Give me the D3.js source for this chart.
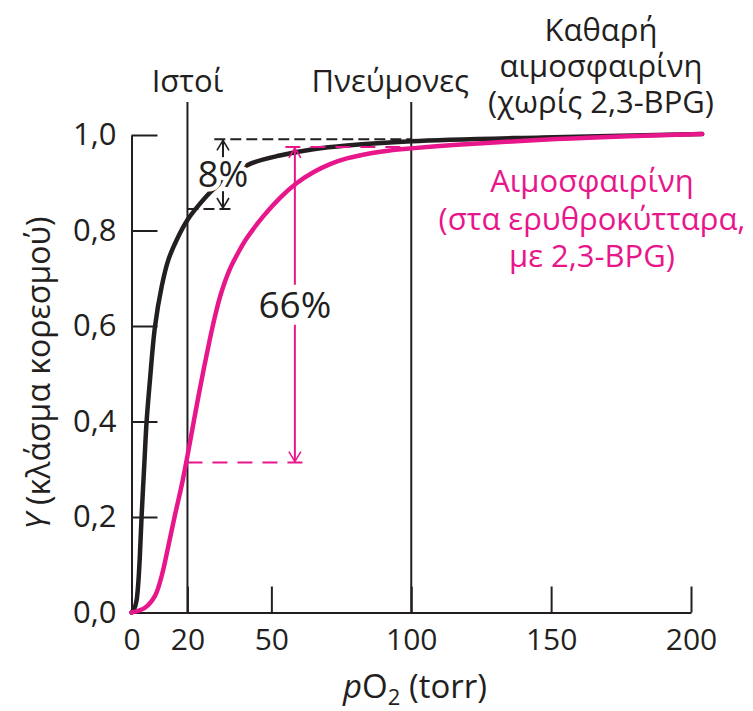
<!DOCTYPE html>
<html><head><meta charset="utf-8">
<script src="https://cdn.jsdelivr.net/npm/d3@7"></script>
<style>
html,body{margin:0;padding:0;background:#fff;}
svg{display:block;}
text{font-family:"Open Sans","Noto Sans",sans-serif;}
</style></head>
<body>
<script>
// ---- data ----
const xTicks = [0, 20, 50, 100, 150, 200];
const yTicks = [0, 0.2, 0.4, 0.6, 0.8, 1.0];
const refLines = [{x: 20, label: "Ιστοί", lx: 20}, {x: 100, label: "Πνεύμονες", lx: 92.5}];
// pure hemoglobin (no 2,3-BPG)
const pureP = [0, 1, 1.8, 2.4, 3.0, 3.6, 4.6, 5.4, 6.6, 8.4, 10.8, 13.2, 16.7, 20, 23.9, 29.2, 36, 43, 53, 65, 77, 100, 147, 204];
const pureY = [0, 0.008, 0.025, 0.06, 0.12, 0.2, 0.313, 0.4, 0.487, 0.599, 0.683, 0.739, 0.787, 0.822, 0.852, 0.886, 0.918, 0.941, 0.957, 0.970, 0.978, 0.987, 0.995, 1.002];
// hemoglobin in erythrocytes (with 2,3-BPG)
const rbcP = [0, 4.8, 8.4, 10.8, 13.2, 15.5, 18, 20, 22, 24, 26, 28, 30, 32, 35, 38, 41, 47, 53, 59, 65, 71, 77, 89, 100, 147, 204];
const rbcY = [0, 0.01, 0.035, 0.077, 0.14, 0.203, 0.268, 0.328, 0.392, 0.455, 0.515, 0.572, 0.624, 0.668, 0.717, 0.752, 0.782, 0.829, 0.868, 0.899, 0.922, 0.939, 0.951, 0.965, 0.972, 0.99, 1.002];
const pureLabel = ["Καθαρή", "αιμοσφαιρίνη", "(χωρίς 2,3-BPG)"];
const rbcLabel = ["Αιμοσφαιρίνη", "(στα ερυθροκύτταρα,", "με 2,3-BPG)"];
// annotations (pO2, Y)
const pureDiff = {x: 32.7, y0: 0.845, y1: 0.991, label: "8%", dashTop: [29.6, 100], dashBot: [20, 36]};
const rbcDiff = {x: 58.4, y0: 0.314, y1: 0.975, label: "66%", dashTop: [55, 100], dashBot: [20, 61.5]};

const BLACK = "#231f20", PINK = "#e8168b";
const W = 753, H = 711;
const svg = d3.select("body").append("svg").attr("width", W).attr("height", H);
const x = d3.scaleLinear().domain([0, 200]).range([131.5, 691]);
const y = d3.scaleLinear().domain([0, 1]).range([612.5, 135]);
const FS = 30;

svg.append("defs").call(d => {
  [["arrB", BLACK], ["arrP", PINK]].forEach(([id, c]) => {
    d.append("marker").attr("id", id).attr("viewBox", "-12 -8 14 16")
      .attr("refX", 0).attr("refY", 0).attr("markerWidth", 14).attr("markerHeight", 16)
      .attr("markerUnits", "userSpaceOnUse").attr("orient", "auto")
      .append("path").attr("d", "M-10,-6 L0,0 L-10,6").attr("fill", "none").attr("stroke", c).attr("stroke-width", 1.6);
  });
});

// reference vertical lines
refLines.forEach(r => {
  svg.append("line").attr("x1", x(r.x)).attr("x2", x(r.x)).attr("y1", 102).attr("y2", y(0))
    .attr("stroke", BLACK).attr("stroke-width", 2);
  svg.append("text").attr("x", x(r.lx)).attr("y", 92).attr("text-anchor", "middle")
    .attr("font-size", FS + 1).attr("fill", BLACK).text(r.label);
});

// axes
const xAxis = d3.axisBottom(x).tickValues(xTicks).tickSizeInner(-26).tickSizeOuter(0).tickPadding(16).tickFormat(d3.format("d"));
const gx = svg.append("g").attr("transform", `translate(0,${y(0)})`).call(xAxis);
const yAxis = d3.axisLeft(y).tickValues(yTicks).tickSizeInner(-26).tickSizeOuter(0).tickPadding(15)
  .tickFormat(d => d3.format(".1f")(d).replace(".", ","));
const gy = svg.append("g").attr("transform", `translate(${x(0)},0)`).call(yAxis);
[gx, gy].forEach(g => {
  g.selectAll("path.domain").attr("stroke", BLACK).attr("stroke-width", 2);
  g.selectAll(".tick line").attr("stroke", BLACK).attr("stroke-width", 2);
  g.selectAll(".tick text").attr("font-size", FS).attr("fill", BLACK)
    .attr("font-family", '"Open Sans","Noto Sans",sans-serif');
});
gy.selectAll(".tick text").attr("font-size", FS + 1);

// axis titles
const xt = svg.append("text").attr("x", 415).attr("y", 698).attr("text-anchor", "middle")
  .attr("font-size", 33).attr("fill", BLACK);
xt.append("tspan").attr("font-style", "italic").text("p");
xt.append("tspan").text("O");
xt.append("tspan").attr("font-size", 22).attr("dy", 7).text("2");
xt.append("tspan").attr("dy", -7).text(" (torr)");

const yt = svg.append("text").attr("transform", `translate(50,${373}) rotate(-90)`).attr("text-anchor", "middle")
  .attr("font-size", 32).attr("fill", BLACK);
yt.append("tspan").attr("font-style", "italic").text("Y");
yt.append("tspan").text(" (κλάσμα κορεσμού)");

// curves
const line = d3.line().x(d => x(d[0])).y(d => y(d[1])).curve(d3.curveCatmullRom.alpha(0.5));
svg.append("path").datum(pureP.map((p, i) => [p, pureY[i]])).attr("d", line)
  .attr("fill", "none").attr("stroke", BLACK).attr("stroke-width", 4.5).attr("stroke-linecap", "round");
svg.append("path").datum(rbcP.map((p, i) => [p, rbcY[i]])).attr("d", line)
  .attr("fill", "none").attr("stroke", PINK).attr("stroke-width", 4.5).attr("stroke-linecap", "round");

// annotations
function annot(a, c, marker, dash, labelH, fs) {
  const g = svg.append("g");
  g.append("line").attr("x1", x(a.dashTop[0])).attr("x2", x(a.dashTop[1])).attr("y1", y(a.y1)).attr("y2", y(a.y1))
    .attr("stroke", c).attr("stroke-width", 2).attr("stroke-dasharray", dash);
  g.append("line").attr("x1", x(a.dashBot[0])).attr("x2", x(a.dashBot[1])).attr("y1", y(a.y0)).attr("y2", y(a.y0))
    .attr("stroke", c).attr("stroke-width", 2).attr("stroke-dasharray", dash);
  const ym = (y(a.y0) + y(a.y1)) / 2;
  g.append("text").attr("x", x(a.x)).attr("y", ym + fs * 0.36).attr("text-anchor", "middle")
    .attr("font-size", fs).attr("fill", BLACK).attr("stroke", "#fff").attr("stroke-width", 9)
    .attr("stroke-linejoin", "round").attr("paint-order", "stroke").text(a.label);
  g.append("line").attr("x1", x(a.x)).attr("x2", x(a.x)).attr("y1", ym - labelH).attr("y2", y(a.y1) + 1)
    .attr("stroke", c).attr("stroke-width", 2).attr("marker-end", `url(#${marker})`);
  g.append("line").attr("x1", x(a.x)).attr("x2", x(a.x)).attr("y1", ym + labelH).attr("y2", y(a.y0) - 1)
    .attr("stroke", c).attr("stroke-width", 2).attr("marker-end", `url(#${marker})`);
}
annot(pureDiff, BLACK, "arrB", "11,5", 17, 36);
annot(rbcDiff, PINK, "arrP", "15,10", 20, 37);

// curve labels (one text block each)
function block(lines, cx, y0, lh, color) {
  const t = svg.append("text").attr("text-anchor", "middle").attr("font-size", FS + 1).attr("fill", color);
  lines.forEach((s, i) => t.append("tspan").attr("x", cx).attr("y", y0 + i * lh).text(s));
}
block(pureLabel, 601, 41, 36, BLACK);
block(rbcLabel, 592, 192, 37.5, PINK);
</script>
</body></html>
